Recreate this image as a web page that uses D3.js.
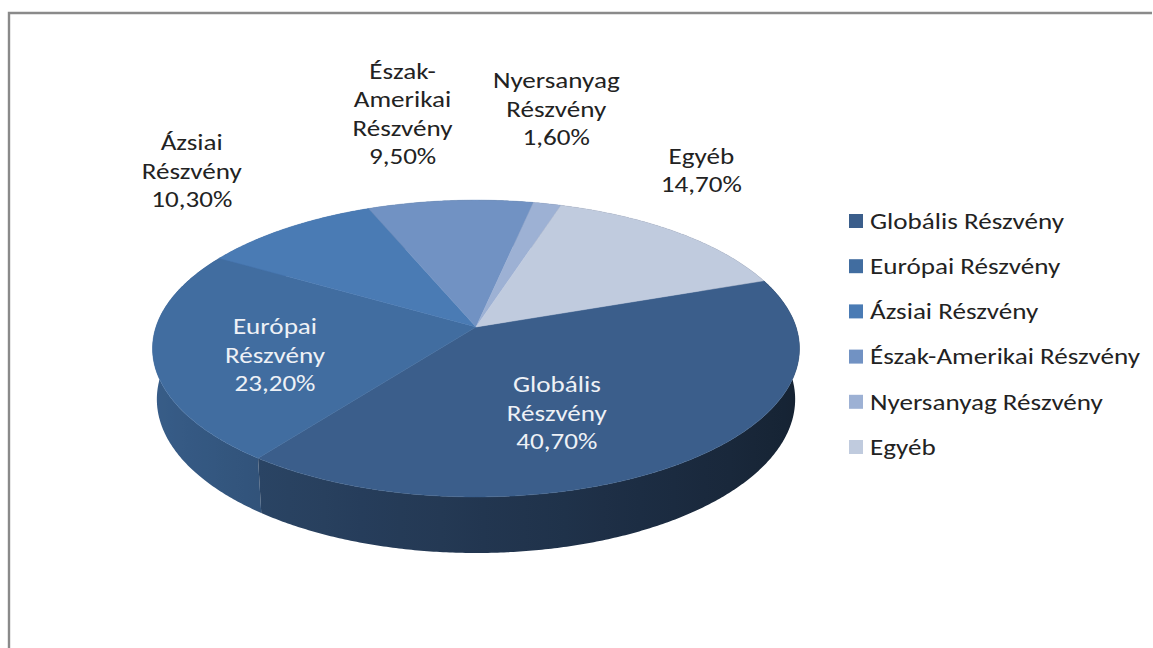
<!DOCTYPE html>
<html>
<head>
<meta charset="utf-8">
<script src="https://cdn.jsdelivr.net/npm/d3@7"></script>
<style>
  html, body { margin: 0; padding: 0; background: #ffffff; }
  svg { display: block; }
</style>
</head>
<body>
<svg id="chart" width="1153" height="648"></svg>
<script>
// ---- data ----
const categories = ["Globális Részvény", "Európai Részvény", "Ázsiai Részvény", "Észak-Amerikai Részvény", "Nyersanyag Részvény", "Egyéb"];
const values = [40.7, 23.2, 10.3, 9.5, 1.6, 14.7];
const labelLines = [["Globális", "Részvény"], ["Európai", "Részvény"], ["Ázsiai", "Részvény"], ["Észak-", "Amerikai", "Részvény"], ["Nyersanyag", "Részvény"], ["Egyéb"]];
const colors = ["#3b5e8b", "#416da0", "#4a7bb4", "#7192c3", "#9db1d4", "#c0cbde"];

// ---- layout / style ----
const W = 1153, H = 648;
const FONT = "Carlito, Calibri, 'Open Sans', Lato, sans-serif";
const FS = 22;                          // font size (height); width is fitted below
const startDeg = 70.5;                  // first slice start, clockwise from back
const cam = { cx: 476, cy: 327, f: 1965, D: 6.14, sa: 0.454, ca: 0.891, h: 0.1785 };
// label placement in pie space: angle shift from slice middle (deg) and radius (1 = rim)
const labelShift = [13.1, -5.75, 1.35, -3.6, -5.2, -10.9];
const labelRadius = [0.592, 0.639, 1.652, 1.889, 1.942, 1.527];
const labelFill = ["#eef1f6", "#eef1f6", "#222", "#222", "#222", "#222"];
const LH = 28.5;

const svg = d3.select("#chart");
const defs = svg.append("defs");
const fmt = d3.formatLocale({ decimal: ",", thousands: " ", grouping: [3], currency: ["", ""] }).format(".2f");
const color = d3.scaleOrdinal().domain(categories).range(colors);

// border (left + top)
svg.append("path").attr("d", `M9,${H} V13 H1152`).attr("fill", "none")
  .attr("stroke", "#8a8a8a").attr("stroke-width", 2.4);

// horizontal fit so legend text width matches reference
const probe = svg.append("text").attr("font-family", FONT).attr("font-size", FS).text("Globális Részvény");
const sx = Math.max(0.8, Math.min(1.25, 194 / probe.node().getComputedTextLength()));
probe.remove();

function proj(phi, r, Y) {
  const X = r * Math.sin(phi), Z = r * Math.cos(phi);
  const v = Y * cam.ca + Z * cam.sa;
  const w = cam.D + Z * cam.ca - Y * cam.sa;
  return [cam.cx + cam.f * X / w, cam.cy - cam.f * v / w];
}

const a0 = startDeg * Math.PI / 180;
const arcs = d3.pie().sort(null).startAngle(a0).endAngle(a0 + 2 * Math.PI)(values);
const shade = d3.scaleLinear().domain([-1, 1]).range([0.86, 0.38]); // by sin(phi): left bright, right dark
const darker = (c, f) => { const q = d3.rgb(c); return d3.rgb(q.r * f, q.g * f, q.b * f).formatHex(); };

// side walls: one path per slice, gradient along x
const walls = arcs.map((a, i) => {
  const n = Math.max(4, Math.ceil((a.endAngle - a.startAngle) / (Math.PI / 360)));
  const top = [], bot = [];
  for (let k = 0; k <= n; k++) {
    const p = a.startAngle + (a.endAngle - a.startAngle) * k / n;
    top.push(proj(p, 1, 0)); bot.push(proj(p, 1, -cam.h));
  }
  const pts = top.concat(bot.reverse());
  const mid = (a.startAngle + a.endAngle) / 2;
  const c = color(categories[i]);
  const fa = Math.max(a.startAngle, Math.PI / 2), fb = Math.min(a.endAngle, 3 * Math.PI / 2);
  let fill;
  if (fb > fa) {
    const id = "wg" + i;
    const xs = d3.range(0, 21).map(k => fa + (fb - fa) * k / 20);
    const xv = xs.map(p => proj(p, 1, 0)[0]);
    const x1 = d3.min(xv), x2 = d3.max(xv);
    const g = defs.append("linearGradient").attr("id", id).attr("gradientUnits", "userSpaceOnUse")
      .attr("x1", x1).attr("x2", x2).attr("y1", 0).attr("y2", 0);
    xs.map((p, k) => ({ o: (xv[k] - x1) / (x2 - x1), c: darker(c, shade(Math.sin(p)) * (i === 0 ? 0.94 : 1)) }))
      .sort((u, v) => u.o - v.o)
      .forEach(s => g.append("stop").attr("offset", s.o).attr("stop-color", s.c));
    fill = `url(#${id})`;
  } else {
    fill = darker(c, shade(Math.sin(mid)));
  }
  return { z: Math.cos(mid), d: "M" + pts.map(p => p.join(",")).join("L") + "Z", fill };
});
walls.sort((u, v) => v.z - u.z);
svg.append("g").selectAll("path").data(walls).join("path")
  .attr("d", d => d.d).attr("fill", d => d.fill);

// top faces
svg.append("g").selectAll("path").data(arcs).join("path")
  .attr("d", a => {
    const n = Math.max(4, Math.ceil((a.endAngle - a.startAngle) / (Math.PI / 360)));
    const pts = [proj(0, 0, 0)];
    for (let k = 0; k <= n; k++) pts.push(proj(a.startAngle + (a.endAngle - a.startAngle) * k / n, 1, 0));
    return "M" + pts.map(p => p.join(",")).join("L") + "Z";
  })
  .attr("fill", (a, i) => color(categories[i]))
  .attr("stroke", (a, i) => color(categories[i])).attr("stroke-width", 0.5);

// data labels (one text per label, lines as tspans)
const lg = svg.append("g").attr("font-family", FONT).attr("font-size", FS).attr("text-anchor", "middle");
arcs.forEach((a, i) => {
  const mid = (a.startAngle + a.endAngle) / 2 + labelShift[i] * Math.PI / 180;
  const [x, y] = proj(mid, labelRadius[i], 0);
  const lines = labelLines[i].concat([fmt(values[i]) + "%"]);
  const y0 = -(lines.length - 1) * LH / 2;
  const t = lg.append("text").attr("transform", `translate(${x},${y}) scale(${sx},1)`)
    .attr("fill", labelFill[i]);
  lines.forEach((s, j) => {
    t.append("tspan").attr("x", 0).attr("y", y0 + j * LH).attr("dy", "0.35em").text(s);
  });
});

// legend
const leg = svg.append("g").attr("font-family", FONT).attr("font-size", FS);
const ly = d3.scalePoint().domain(categories).range([221, 447]);
categories.forEach((c, i) => {
  leg.append("rect").attr("x", 849).attr("y", ly(c) - 7).attr("width", 14).attr("height", 14).attr("fill", color(c));
  leg.append("text").attr("transform", `translate(870,${ly(c)}) scale(${sx},1)`)
    .attr("dy", "0.35em").attr("fill", "#222").text(c);
});
</script>
</body>
</html>
